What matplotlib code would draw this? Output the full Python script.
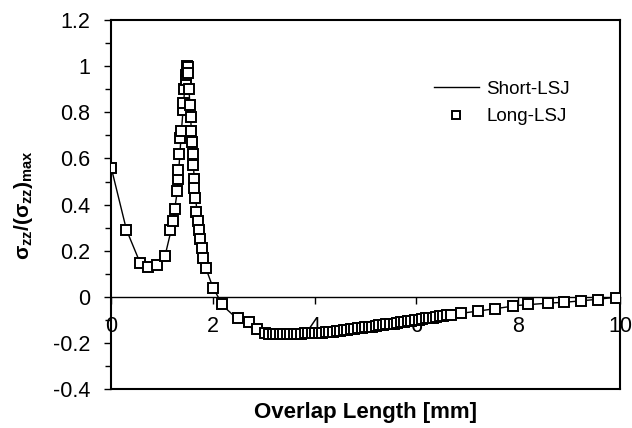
import matplotlib
matplotlib.use("Agg")
import matplotlib.pyplot as plt
from matplotlib.ticker import FuncFormatter, MultipleLocator

plt.rcParams["font.family"] = ["Liberation Sans", "DejaVu Sans"]
plt.rcParams["mathtext.fontset"] = "custom"
plt.rcParams["mathtext.rm"] = "Liberation Sans:bold"
plt.rcParams["mathtext.it"] = "Liberation Sans:bold"
plt.rcParams["mathtext.bf"] = "Liberation Sans:bold"

# ── Short-LSJ (solid line) ────────────────────────────────────────────────────
short_x = [0, 0.3, 0.57, 0.75, 0.9, 1.06, 1.2, 1.3, 1.38, 1.45, 1.49, 1.52,
           1.56, 1.6, 1.65, 1.72, 1.8, 1.9, 2.0, 2.2, 2.5, 2.8, 3.1, 3.5, 4.0,
           4.5, 5.0, 5.5, 6.0, 6.5, 7.0, 7.5, 8.0, 8.5, 9.0, 9.5, 10.0]
short_y = [0.56, 0.29, 0.146, 0.128, 0.14, 0.18, 0.31, 0.46, 0.72, 0.92, 1.0,
           0.93, 0.78, 0.62, 0.45, 0.29, 0.18, 0.10, 0.04, -0.04, -0.10, -0.14,
           -0.16, -0.161, -0.157, -0.147, -0.131, -0.114, -0.096, -0.082,
           -0.068, -0.053, -0.037, -0.029, -0.022, -0.012, 0.0]

# ── Long-LSJ (open squares) ───────────────────────────────────────────────────
long_x = [0.0, 0.3, 0.57, 0.73, 0.89, 1.06, 1.16, 1.22, 1.26, 1.30, 1.31, 1.32,
          1.34, 1.36, 1.37, 1.41, 1.42, 1.44, 1.46, 1.47, 1.48, 1.49, 1.50,
          1.51, 1.52, 1.54, 1.56, 1.57, 1.59, 1.60, 1.61, 1.62, 1.63, 1.64,
          1.67, 1.70, 1.72, 1.75, 1.78, 1.81, 1.87, 2.00, 2.18, 2.5, 2.7, 2.87,
          3.03,
          3.10, 3.17, 3.24, 3.31, 3.38, 3.45, 3.52, 3.59, 3.66, 3.73, 3.80,
          3.87, 3.94, 4.01, 4.08, 4.15, 4.22, 4.29, 4.36, 4.43, 4.50, 4.57,
          4.64, 4.71, 4.78, 4.85, 4.92, 4.99, 5.06, 5.13, 5.20, 5.27, 5.34,
          5.41, 5.48, 5.55, 5.62, 5.69, 5.76, 5.83, 5.90, 5.97, 6.04, 6.11,
          6.18, 6.25, 6.32, 6.39, 6.46, 6.53, 6.60, 6.67,
          6.87, 7.2, 7.54, 7.9, 8.2, 8.58, 8.9, 9.23, 9.56, 9.92]
long_y = [0.56, 0.29, 0.146, 0.128, 0.138, 0.176, 0.29, 0.33, 0.38, 0.46, 0.51,
          0.55, 0.62, 0.69, 0.72, 0.81, 0.84, 0.90, 0.94, 0.96, 0.98, 1.0,
          0.995, 0.97, 0.90, 0.83, 0.78, 0.72, 0.67, 0.62, 0.57, 0.51, 0.47,
          0.43, 0.37, 0.33, 0.29, 0.25, 0.21, 0.17, 0.125, 0.04, -0.03, -0.09,
          -0.11, -0.14, -0.155,
          -0.160, -0.160, -0.161, -0.161, -0.161, -0.161, -0.161, -0.160,
          -0.160, -0.160, -0.159, -0.159, -0.158, -0.157, -0.156, -0.155,
          -0.154, -0.152, -0.151, -0.149, -0.147, -0.145, -0.143, -0.141,
          -0.139, -0.137, -0.135, -0.133, -0.131, -0.129, -0.127, -0.124,
          -0.122, -0.120, -0.118, -0.116, -0.113, -0.111, -0.109, -0.106,
          -0.104, -0.101, -0.099, -0.097, -0.094, -0.092, -0.090, -0.087,
          -0.085, -0.083, -0.080, -0.078,
          -0.072, -0.063, -0.052, -0.040, -0.032, -0.028, -0.024, -0.018,
          -0.012, -0.004]

fig = plt.figure(figsize=(6.32, 4.28), dpi=100)
ax = fig.add_axes([0.176, 0.091, 0.805, 0.862])

ax.plot(short_x, short_y, color="black", lw=1.0, label="Short-LSJ", zorder=3)
ax.plot(long_x, long_y, ls="none", marker="s", ms=6.5, mfc="white",
        mec="black", mew=1.4, label="Long-LSJ", zorder=4)

ax.set_xlim(0, 10)
ax.set_ylim(-0.4, 1.2)

# x axis drawn along y = 0 (Excel style), box still closed at the bottom
ax.spines["bottom"].set_position(("data", 0))
ax.spines["bottom"].set_linewidth(1.0)
ax.axhline(-0.4, color="black", lw=1.5, clip_on=False, zorder=5)
for side in ("left", "right", "top"):
    ax.spines[side].set_linewidth(1.5)

ax.xaxis.set_major_locator(MultipleLocator(2))
ax.yaxis.set_major_locator(MultipleLocator(0.2))
ax.yaxis.set_minor_locator(MultipleLocator(0.1))
fmt = FuncFormatter(lambda v, _: f"{v:g}")
ax.xaxis.set_major_formatter(fmt)
ax.yaxis.set_major_formatter(fmt)
ax.tick_params(axis="both", which="both", direction="out", labelsize=15.5,
               width=1.0)
ax.tick_params(axis="y", which="major", length=5, pad=10)
ax.tick_params(axis="y", which="minor", length=4)
ax.tick_params(axis="x", length=5, pad=9)

ax.set_xlabel("Overlap Length [mm]", fontsize=16, fontweight="bold")
ax.xaxis.set_label_coords(0.5, -0.035)
ax.set_ylabel(r"$\sigma_{zz}/(\sigma_{zz})_{max}$", fontsize=15)
ax.yaxis.set_label_coords(-0.15, 0.5)

ax.legend(loc="upper right", bbox_to_anchor=(0.935, 0.882), frameon=False,
          fontsize=13.5, handlelength=2.4, handletextpad=0.4,
          labelspacing=0.55, markerscale=0.8)

fig.savefig("out.png", dpi=100)
